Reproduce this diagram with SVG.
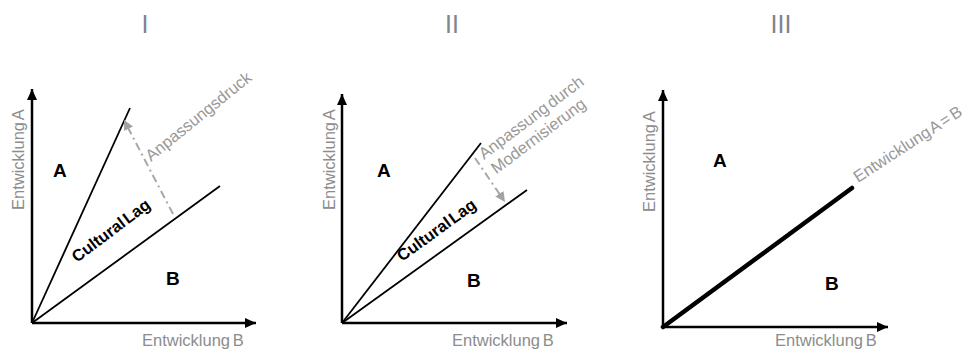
<svg xmlns="http://www.w3.org/2000/svg" width="967" height="351" viewBox="0 0 967 351">
<defs>
<marker id="ax" markerUnits="userSpaceOnUse" markerWidth="12" markerHeight="12" viewBox="0 0 12 12" refX="11" refY="6" orient="auto">
<path d="M0,1 L11,6 L0,11 Z" fill="#000"/>
</marker>
<marker id="ga" markerUnits="userSpaceOnUse" markerWidth="12" markerHeight="12" viewBox="0 0 12 12" refX="10" refY="6" orient="auto">
<path d="M0,1 L10,6 L0,11 Z" fill="#a3a3a3"/>
</marker>
<style>
.title{font-family:"Liberation Sans",Arial,sans-serif;font-size:25px;fill:#7f848e;text-anchor:middle}
.axl{font-family:"Liberation Sans",Arial,sans-serif;font-size:16.5px;fill:#8c8c8c;word-spacing:-2px}
.reg{font-family:"Liberation Sans",Arial,sans-serif;font-size:19px;font-weight:bold;fill:#000}
.lag{font-family:"Liberation Sans",Arial,sans-serif;font-size:16.5px;font-weight:bold;fill:#000;word-spacing:-3px}
.note{font-family:"Liberation Sans",Arial,sans-serif;font-size:16.5px;fill:#999;word-spacing:-2px}
.axis{stroke:#000;stroke-width:2.5;fill:none;marker-end:url(#ax)}
.ray{stroke:#000;stroke-width:1.8;fill:none}
.thick{stroke:#000;stroke-width:4.5;fill:none;stroke-linecap:round}
.dash{stroke:#a8a8a8;stroke-width:2;fill:none;stroke-dasharray:8 4 2 4;marker-end:url(#ga)}
</style>
</defs>
<rect width="967" height="351" fill="#fff"/>

<g id="panel1">
<text class="title" x="145" y="33">I</text>
<text class="axl" transform="translate(24,210) rotate(-90)">Entwicklung A</text>
<text class="axl" x="142" y="346">Entwicklung B</text>
<text class="reg" x="53" y="177">A</text>
<text class="reg" x="166" y="285">B</text>
<text class="lag" transform="translate(77,263) rotate(-37)">Cultural Lag</text>
<text class="note" transform="translate(151,162) rotate(-39)">Anpassungsdruck</text>
</g>

<g id="panel2">
<text class="title" x="452" y="33">II</text>
<text class="axl" transform="translate(335,210) rotate(-90)">Entwicklung A</text>
<text class="axl" x="452" y="346">Entwicklung B</text>
<text class="reg" x="377" y="177">A</text>
<text class="reg" x="467" y="287">B</text>
<text class="lag" transform="translate(402,262) rotate(-36)">Cultural Lag</text>
<g transform="translate(484,160) rotate(-37)">
<text class="note" x="0" y="0">Anpassung durch</text>
<text class="note" x="1" y="19">Modernisierung</text>
</g>
</g>

<g id="panel3">
<text class="title" x="781" y="33">III</text>
<text class="axl" transform="translate(655,212) rotate(-90)">Entwicklung A</text>
<text class="axl" x="775" y="346">Entwicklung B</text>
<text class="reg" x="713" y="167">A</text>
<text class="reg" x="825" y="290">B</text>
<text class="note" transform="translate(858,183) rotate(-33)">Entwicklung A = B</text>
</g>

<g id="connectors">
<line class="axis" x1="32" y1="323" x2="32" y2="89"/>
<line class="axis" x1="32" y1="323" x2="256" y2="323"/>
<line class="ray" x1="32" y1="323" x2="130" y2="108"/>
<line class="ray" x1="32" y1="323" x2="220" y2="186"/>
<line class="dash" x1="173" y1="214" x2="124" y2="120"/>

<line class="axis" x1="342" y1="323" x2="342" y2="94"/>
<line class="axis" x1="342" y1="323" x2="567" y2="323"/>
<line class="ray" x1="342" y1="323" x2="481" y2="143"/>
<line class="ray" x1="342" y1="323" x2="527" y2="190"/>
<line class="dash" x1="475" y1="158" x2="505" y2="202"/>

<line class="axis" x1="663" y1="327" x2="663" y2="90"/>
<line class="axis" x1="663" y1="327" x2="888" y2="327"/>
<line class="thick" x1="663" y1="327" x2="852" y2="188"/>
</g>
</svg>
